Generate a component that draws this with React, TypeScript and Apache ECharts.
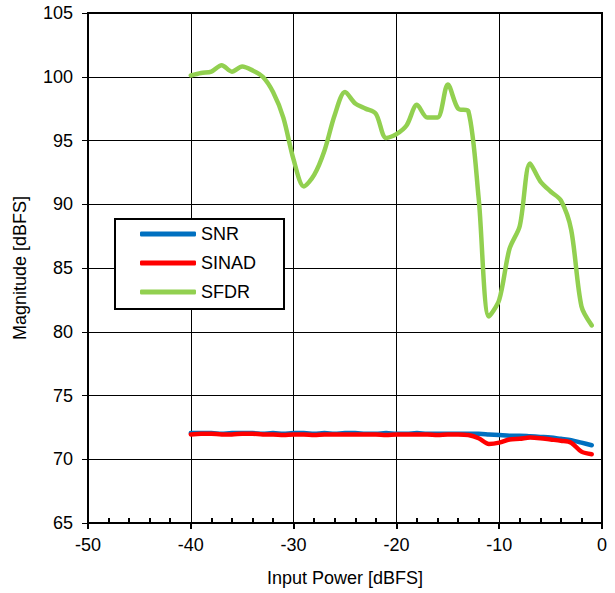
import React, { useEffect, useRef } from "react";
import * as echarts from "echarts";

const inputPower = [-40,-39,-38,-37,-36,-35,-34,-33,-32,-31,-30,-29,-28,-27,-26,-25,-24,-23,-22,-21,-20,-19,-18,-17,-16,-15,-14,-13,-12,-11,-10,-9,-8,-7,-6,-5,-4,-3,-2,-1];
const snr = [72.05,72.05,72.05,72.0,72.05,72.05,72.05,72.0,72.05,72.0,72.05,72.05,72.0,72.05,72.0,72.05,72.05,72.0,72.0,72.05,72.0,72.0,72.05,72.0,72.0,72.0,72.0,72.0,72.0,71.95,71.9,71.85,71.85,71.8,71.75,71.7,71.6,71.5,71.3,71.1];
const sinad = [71.95,72.0,72.0,71.95,71.95,72.0,72.0,71.95,71.95,71.9,71.95,71.95,71.9,71.95,71.95,71.95,71.95,71.95,71.95,71.9,71.95,71.95,71.95,71.95,71.9,71.95,71.95,71.9,71.65,71.2,71.3,71.55,71.6,71.7,71.65,71.55,71.45,71.3,70.6,70.4];
const sfdr = [100.1,100.3,100.4,100.9,100.4,100.8,100.5,100.0,98.8,96.8,93.5,91.4,92.3,94.2,97.0,98.8,97.9,97.5,97.1,95.2,95.5,96.2,97.8,96.8,96.8,99.4,97.5,97.3,90.5,81.2,82.5,86.5,88.3,93.2,91.8,91.0,90.3,88.0,82.0,80.5];

const seriesNames = ["SNR", "SINAD", "SFDR"];
const seriesColors = ["#0070C0", "#FF0000", "#92D050"];

const font = "'Liberation Sans', Arial, sans-serif";

export default function App() {
  const ref = useRef<HTMLDivElement>(null);
  useEffect(() => {
    if (!ref.current) return;
    const chart = echarts.init(ref.current, null, { renderer: "svg" });
    const datasets = [snr, sinad, sfdr];
    chart.setOption({
      animation: false,
      backgroundColor: "#fff",
      textStyle: { fontFamily: font },
      grid: { left: 88, right: 13, top: 13, bottom: 70, containLabel: false },
      legend: {
        orient: "vertical",
        left: 115,
        top: 219,
        data: seriesNames,
        icon: "roundRect",
        itemWidth: 56,
        itemHeight: 5,
        itemGap: 11,
        padding: [6, 28, 8, 25],
        backgroundColor: "#fff",
        borderColor: "#000",
        borderWidth: 2,
        textStyle: { fontFamily: font, fontSize: 18, color: "#000" },
      },
      xAxis: {
        type: "value",
        min: -50,
        max: 0,
        interval: 10,
        name: "Input Power [dBFS]",
        nameLocation: "middle",
        nameGap: 46,
        nameTextStyle: { fontFamily: font, fontSize: 18, color: "#000" },
        axisLine: { show: true, onZero: false, lineStyle: { color: "#000", width: 2 } },
        axisTick: { show: true, length: 6, lineStyle: { color: "#000", width: 2 } },
        minorTick: { show: true, splitNumber: 5, length: -5, lineStyle: { color: "#000", width: 2 } },
        axisLabel: { fontFamily: font, fontSize: 18, color: "#000", margin: 13 },
        splitLine: { show: true, lineStyle: { color: "#000", width: 1 } },
      },
      yAxis: {
        type: "value",
        min: 65,
        max: 105,
        interval: 5,
        name: "Magnitude [dBFS]",
        nameLocation: "middle",
        nameGap: 59,
        nameTextStyle: { fontFamily: font, fontSize: 18, color: "#000" },
        axisLine: { show: true, onZero: false, lineStyle: { color: "#000", width: 2 } },
        axisTick: { show: true, length: 6, lineStyle: { color: "#000", width: 1 } },
        axisLabel: { fontFamily: font, fontSize: 18, color: "#000", margin: 15 },
        splitLine: { show: true, lineStyle: { color: "#000", width: 1 } },
      },
      graphic: [
        {
          type: "rect",
          shape: { x: 88, y: 13, width: 514, height: 510 },
          style: { fill: "none", stroke: "#000", lineWidth: 2 },
          silent: true,
          z: 1,
        },
      ],
      series: datasets.map((d, i) => ({
        name: seriesNames[i],
        type: "line",
        data: inputPower.map((x, j) => [x, d[j]]),
        showSymbol: false,
        symbol: "none",
        smooth: 0.3,
        lineStyle: { color: seriesColors[i], width: 4.5, cap: "round", join: "round" },
        itemStyle: { color: seriesColors[i] },
        z: 3 + i,
      })),
    });
    return () => chart.dispose();
  }, []);
  return <div ref={ref} style={{ width: 615, height: 593, position: "absolute", left: 0, top: 0 }} />;
}
